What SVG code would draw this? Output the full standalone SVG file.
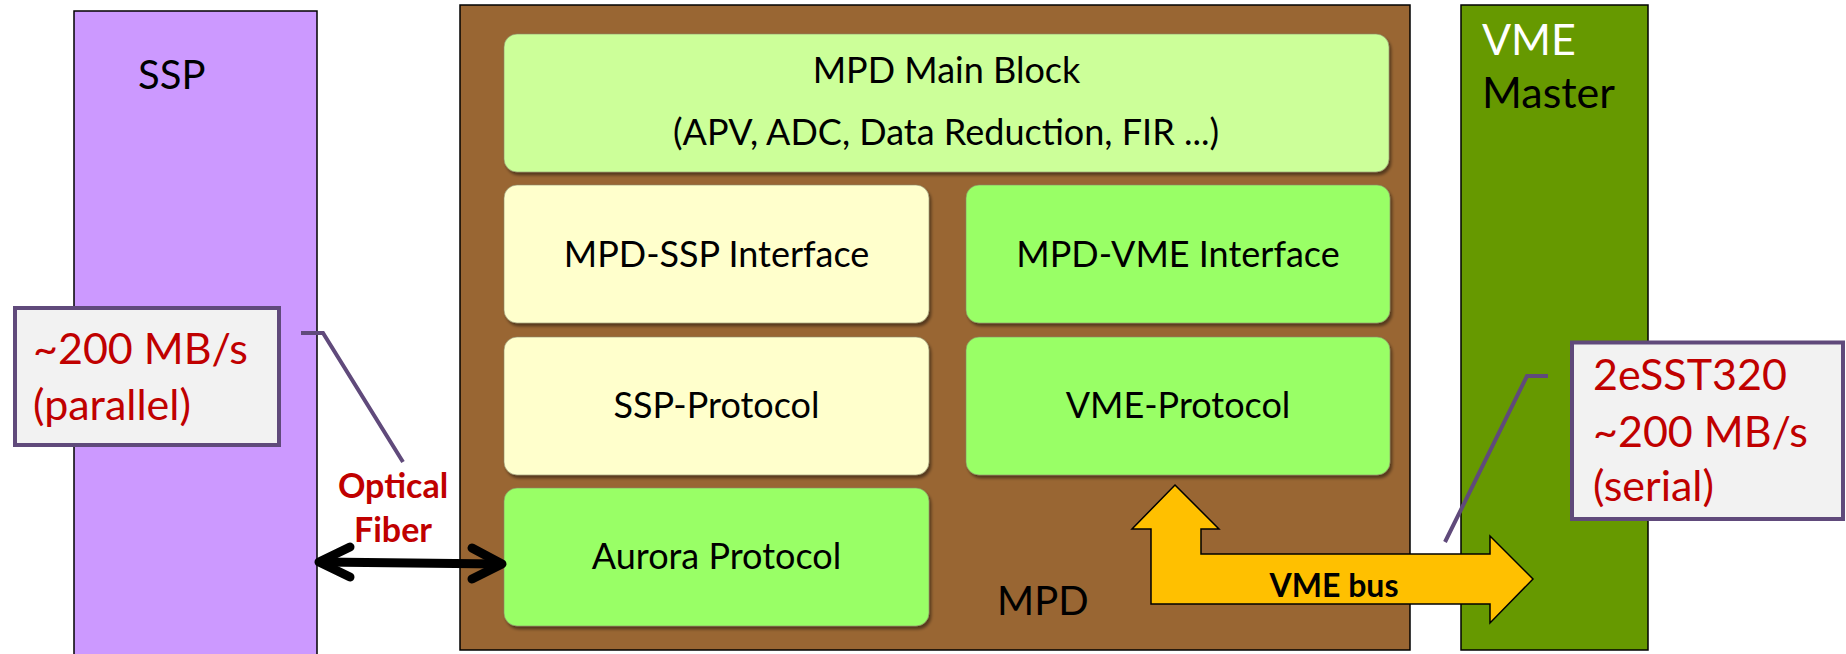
<svg xmlns="http://www.w3.org/2000/svg" width="1846" height="654" viewBox="0 0 1846 654">
<style>
.t{font-family:Lato,"Liberation Sans",sans-serif;fill:#000}
.blk{font-size:36px;text-anchor:middle}
.red{fill:#C00000;font-size:43px}
.bold{font-weight:bold}
.box{stroke:#8a8a6a;stroke-width:0.6}
.call{fill:#F2F2F2;stroke:#604A7B;stroke-width:4}
.lead{fill:none;stroke:#604A7B;stroke-width:4}
</style>
<defs>
<filter id="sh" x="-5%" y="-5%" width="110%" height="115%">
<feDropShadow dx="2" dy="3" stdDeviation="1.5" flood-color="#000" flood-opacity="0.45"/>
</filter>
</defs>
<rect width="1846" height="654" fill="#fff"/>
<g id="ssp">
<rect x="74" y="11" width="243" height="660" fill="#CC99FF" stroke="#000" stroke-width="1.5"/>
<text class="t" x="138" y="89" font-size="40">SSP</text>
</g>
<g id="mpd">
<rect x="460" y="5" width="950" height="645" fill="#996633" stroke="#000" stroke-width="1.5"/>
<text class="t" x="997" y="615" font-size="40">MPD</text>
</g>
<g id="vme-master">
<rect x="1461" y="5" width="187" height="645" fill="#669900" stroke="#000" stroke-width="1.5"/>
<text class="t" x="1482" y="55" font-size="43" style="fill:#fff">VME</text>
<text class="t" x="1482" y="108" font-size="43">Master</text>
</g>
<g id="main-block">
<rect class="box" x="504" y="34" width="885" height="138" rx="13" fill="#CCFF99" filter="url(#sh)"/>
<text class="t blk" x="946.5" y="83">MPD Main Block</text>
<text class="t blk" x="946" y="145">(APV, ADC, Data Reduction, FIR ...)</text>
</g>
<g id="mpd-ssp-interface">
<rect class="box" x="504" y="185" width="425" height="138" rx="13" fill="#FFFFCC" filter="url(#sh)"/>
<text class="t blk" x="716.5" y="267">MPD-SSP Interface</text>
</g>
<g id="mpd-vme-interface">
<rect class="box" x="966" y="185" width="424" height="138" rx="13" fill="#99FF66" filter="url(#sh)"/>
<text class="t blk" x="1178" y="267">MPD-VME Interface</text>
</g>
<g id="ssp-protocol">
<rect class="box" x="504" y="337" width="425" height="138" rx="13" fill="#FFFFCC" filter="url(#sh)"/>
<text class="t blk" x="716.5" y="418">SSP-Protocol</text>
</g>
<g id="vme-protocol">
<rect class="box" x="966" y="337" width="424" height="138" rx="13" fill="#99FF66" filter="url(#sh)"/>
<text class="t blk" x="1178" y="418">VME-Protocol</text>
</g>
<g id="aurora-protocol">
<rect class="box" x="504" y="488" width="425" height="138" rx="13" fill="#99FF66" filter="url(#sh)"/>
<text class="t blk" x="716.5" y="569">Aurora Protocol</text>
</g>
<g id="connectors">
<g id="optical-fiber" fill="none" stroke="#000" stroke-width="9" stroke-linecap="round" stroke-linejoin="round">
<path d="M322,562 L499,564"/>
<path d="M350,547 L319,562 L350,577"/>
<path d="M472,548 L502,564 L472,579"/>
</g>
<text class="t bold" x="393" y="498" font-size="34" text-anchor="middle" style="fill:#C00000">Optical</text>
<text class="t bold" x="393" y="542" font-size="34" text-anchor="middle" style="fill:#C00000">Fiber</text>
<g id="vme-bus">
<polygon points="1175,485 1219,529 1201,529 1201,554 1490,554 1490,536 1533,579 1490,623 1490,604 1151,604 1151,529 1132,529" fill="#FFC000" stroke="#000" stroke-width="1.5" stroke-linejoin="miter"/>
<text class="t bold" x="1334" y="597" font-size="32" text-anchor="middle">VME bus</text>
</g>
<path class="lead" d="M301,333 L323,333 L403,462"/>
<path class="lead" d="M1548,376 L1527,376 L1445,542"/>
</g>
<g id="callout-parallel">
<rect class="call" x="15" y="308" width="264" height="137"/>
<text class="t red" x="33" y="364">~200 MB/s</text>
<text class="t red" x="33" y="420">(parallel)</text>
</g>
<g id="callout-serial">
<rect class="call" x="1572" y="342.5" width="271" height="176.5"/>
<text class="t red" x="1593" y="390">2eSST320</text>
<text class="t red" x="1593" y="447">~200 MB/s</text>
<text class="t red" x="1593" y="501">(serial)</text>
</g>
</svg>
